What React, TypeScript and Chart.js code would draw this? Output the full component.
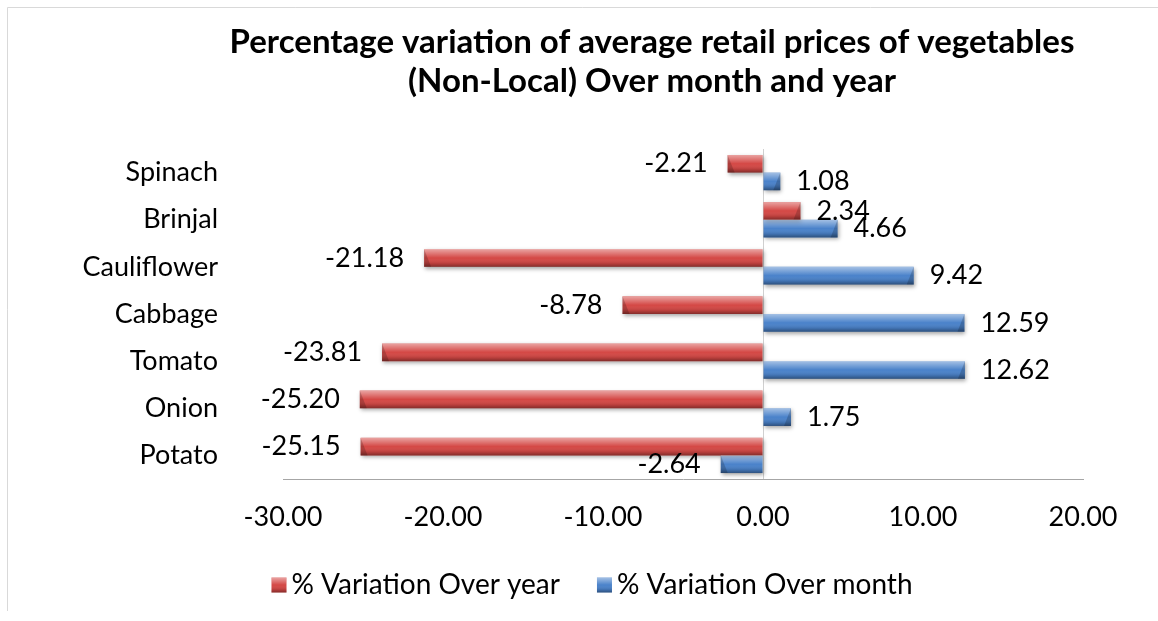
import React, { useEffect, useRef } from "react";
import { Chart, registerables } from "chart.js";

Chart.register(...registerables);

// ---- data ----
const categories = ["Spinach", "Brinjal", "Cauliflower", "Cabbage", "Tomato", "Onion", "Potato"];
const variationOverYear = [-2.21, 2.34, -21.18, -8.78, -23.81, -25.2, -25.15];
const variationOverMonth = [1.08, 4.66, 9.42, 12.59, 12.62, 1.75, -2.64];
const seriesNames = ["% Variation Over year", "% Variation Over month"];
const titleLines = [
  "Percentage variation of average retail prices of vegetables",
  "(Non-Local) Over month and year",
];
const xMin = -30;
const xMax = 20;
const xStep = 10;

const FONT = "Lato, 'Open Sans', 'DejaVu Sans', sans-serif";
const BODY_SIZE = 27;
const LEGEND_SIZE = 28;
const TITLE_SIZE = 33;
const RED = "#d44845";
const BLUE = "#4a82ca";

function bevelOverlay(ctx: CanvasRenderingContext2D, left: number, top: number, w: number, h: number) {
  const g = ctx.createLinearGradient(0, top, 0, top + h);
  g.addColorStop(0, "rgba(255,255,255,0.5)");
  g.addColorStop(0.2, "rgba(255,255,255,0.3)");
  g.addColorStop(0.5, "rgba(255,255,255,0.0)");
  g.addColorStop(0.8, "rgba(0,0,0,0.12)");
  g.addColorStop(1, "rgba(0,0,0,0.38)");
  ctx.fillStyle = g;
  ctx.fillRect(left, top, w, h);
}

const framePlugin = {
  id: "frame",
  beforeDraw(chart: any) {
    const ctx = chart.ctx;
    ctx.save();
    ctx.fillStyle = "#ffffff";
    ctx.fillRect(0, 0, chart.width, chart.height);
    ctx.strokeStyle = "#d9d9d9";
    ctx.lineWidth = 1;
    ctx.beginPath();
    ctx.moveTo(7.5, 611);
    ctx.lineTo(7.5, 7.5);
    ctx.lineTo(chart.width, 7.5);
    ctx.stroke();
    ctx.restore();
  },
  afterDraw(chart: any) {
    // chart title (centred over the full Excel chart, which extends beyond the crop)
    const ctx = chart.ctx;
    ctx.save();
    ctx.font = `bold ${TITLE_SIZE}px ${FONT}`;
    ctx.fillStyle = "#000";
    ctx.textAlign = "center";
    ctx.textBaseline = "middle";
    const cx = 652;
    titleLines.forEach((line, i) => ctx.fillText(line, cx, 42 + i * 39));
    ctx.restore();
  },
};

const barStylePlugin = {
  id: "barStyle",
  beforeDatasetsDraw(chart: any) {
    const ctx = chart.ctx;
    ctx.save();
    ctx.shadowColor = "rgba(0,0,0,0.35)";
    ctx.shadowBlur = 4;
    ctx.shadowOffsetX = 1;
    ctx.shadowOffsetY = 2;
  },
  afterDatasetsDraw(chart: any) {
    const ctx = chart.ctx;
    ctx.restore();
    ctx.save();
    chart.data.datasets.forEach((ds: any, di: number) => {
      const meta = chart.getDatasetMeta(di);
      meta.data.forEach((el: any) => {
        const { x, y, base, height } = el.getProps(["x", "y", "base", "height"], true);
        const left = Math.min(x, base);
        const w = Math.abs(x - base);
        const top = y - height / 2;
        bevelOverlay(ctx, left, top, w, height);
        // bevelled end cap
        const capW = Math.min(7, w / 2);
        const dir = x >= base ? -1 : 1;
        ctx.fillStyle = "rgba(0,0,0,0.18)";
        ctx.beginPath();
        ctx.moveTo(x, top);
        ctx.lineTo(x, top + height);
        ctx.lineTo(x + dir * capW, top + height);
        ctx.closePath();
        ctx.fill();
      });
    });
    // value labels
    ctx.font = `${BODY_SIZE}px ${FONT}`;
    ctx.fillStyle = "#000";
    ctx.textBaseline = "middle";
    chart.data.datasets.forEach((ds: any, di: number) => {
      const meta = chart.getDatasetMeta(di);
      meta.data.forEach((el: any, i: number) => {
        const v = ds.data[i] as number;
        const { x, y } = el.getProps(["x", "y"], true);
        const txt = v.toFixed(2);
        if (v >= 0) {
          ctx.textAlign = "left";
          ctx.fillText(txt, x + 16, y);
        } else {
          ctx.textAlign = "right";
          ctx.fillText(txt, x - 20, y);
        }
      });
    });
    ctx.restore();
  },
};

const legendPlugin = {
  id: "customLegend",
  afterDraw(chart: any) {
    const ctx = chart.ctx;
    ctx.save();
    ctx.font = `${LEGEND_SIZE}px ${FONT}`;
    ctx.textBaseline = "middle";
    ctx.textAlign = "left";
    const box = 15;
    const gapText = 5;
    const gapItem = 37;
    const colors = [RED, BLUE];
    const widths = seriesNames.map((s) => ctx.measureText(s).width);
    const total =
      widths.reduce((a, b) => a + b, 0) + seriesNames.length * (box + gapText) + gapItem * (seriesNames.length - 1);
    const centerX = 592;
    const cy = 585;
    let x = centerX - total / 2;
    seriesNames.forEach((name, i) => {
      ctx.fillStyle = colors[i];
      ctx.fillRect(x, cy - box / 2, box, box);
      bevelOverlay(ctx, x, cy - box / 2, box, box);
      ctx.fillStyle = "#000";
      ctx.fillText(name, x + box + gapText, cy);
      x += box + gapText + widths[i] + gapItem;
    });
    ctx.restore();
  },
};

export default function App() {
  const ref = useRef<HTMLCanvasElement>(null);
  useEffect(() => {
    if (!ref.current) return;
    const chart = new Chart(ref.current, {
      type: "bar",
      data: {
        labels: categories,
        datasets: [
          { label: seriesNames[0], data: variationOverYear, backgroundColor: RED, borderWidth: 0 },
          { label: seriesNames[1], data: variationOverMonth, backgroundColor: BLUE, borderWidth: 0 },
        ],
      },
      options: {
        indexAxis: "y",
        animation: false,
        responsive: true,
        maintainAspectRatio: false,
        layout: { padding: { left: 0, right: 75, top: 149, bottom: 62 } },
        datasets: { bar: { categoryPercentage: 0.75, barPercentage: 1.0 } },
        plugins: {
          legend: { display: false },
          tooltip: { enabled: false },
          title: { display: false },
        },
        scales: {
          x: {
            min: xMin,
            max: xMax,
            ticks: {
              stepSize: xStep,
              color: "#000",
              font: { family: FONT, size: BODY_SIZE },
              padding: 22,
              callback: (v: any) => Number(v).toFixed(2),
            },
            grid: {
              drawTicks: false,
              color: (c: any) => (c.tick && c.tick.value === 0 ? "#d0d0d0" : "rgba(0,0,0,0)"),
            },
            border: { display: true, color: "#a6a6a6", width: 1 },
            afterFit: (s: any) => {
              s.height = 80;
            },
          },
          y: {
            ticks: {
              color: "#000",
              font: { family: FONT, size: BODY_SIZE },
              padding: 65,
            },
            grid: { display: false, drawTicks: false },
            border: { display: false },
            afterFit: (s: any) => {
              s.width = 283;
            },
          },
        },
      },
      plugins: [framePlugin, barStylePlugin, legendPlugin],
    });
    return () => chart.destroy();
  }, []);

  return (
    <div style={{ position: "fixed", left: 0, top: 0, width: 1158, height: 621, background: "#fff" }}>
      <canvas ref={ref} />
    </div>
  );
}
